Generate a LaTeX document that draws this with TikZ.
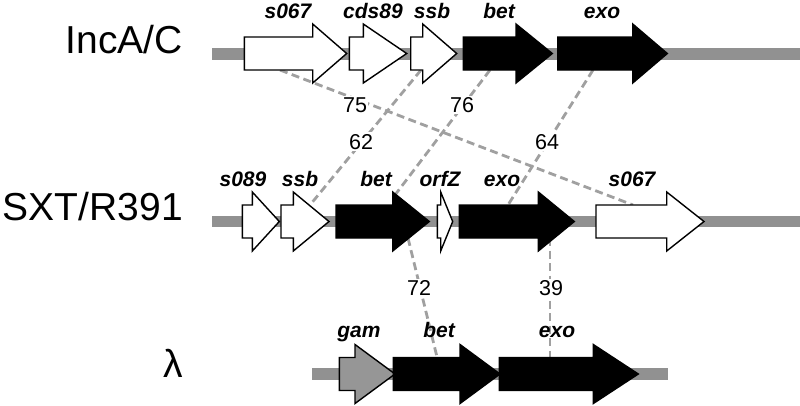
\documentclass[tikz,border=0pt]{standalone}
\usepackage{fontspec}
\setmainfont{Liberation Sans}
\definecolor{bbgray}{RGB}{145,145,145}
\definecolor{dashgray}{RGB}{160,160,160}
\definecolor{gamgray}{RGB}{150,150,150}
\newcommand{\genearrow}[5]{%
  \filldraw[genebox, fill=#5] (#1,#4-16.5) -- (#2,#4-16.5) -- (#2,#4-29.5) -- (#3,#4)
    -- (#2,#4+29.5) -- (#2,#4+16.5) -- (#1,#4+16.5) -- cycle;}
\begin{document}
\begin{tikzpicture}[x=1pt,y=-1pt,
  backbone/.style={draw=bbgray, line width=11.5pt},
  genebox/.style={draw=black, line width=1.4pt, line join=miter},
  conn/.style={draw=dashgray, line width=2.8pt, dash pattern=on 8pt off 4.5pt},
  rowlabel/.style={font=\fontsize{39}{39}\selectfont, anchor=base east, inner sep=0pt},
  genelabel/.style={font=\fontsize{21}{21}\selectfont\bfseries\itshape, anchor=base, inner sep=0pt},
  idlabel/.style={font=\fontsize{21.5}{21.5}\selectfont, anchor=base, fill=white, inner sep=1.5pt}]
\useasboundingbox (0,0) rectangle (800,405);

% row labels
\node[rowlabel] (rIncA) at (183,53) {IncA/C};
\node[rowlabel] (rSXT) at (183,220) {SXT/R391};
\node[rowlabel] (rLam) at (183,377) {λ};

% backbones
\draw[backbone] (212,54) -- (800,54);
\draw[backbone] (212,221.5) -- (800,221.5);
\draw[backbone] (312,374) -- (668,374);

% connector end points
\coordinate (a75) at (280,70);  \coordinate (b75) at (633,205);
\coordinate (a62) at (421,70);  \coordinate (b62) at (310,205);
\coordinate (a76) at (490,70);  \coordinate (b76) at (395,195);
\coordinate (a64) at (593,70);  \coordinate (b64) at (508,205);
\coordinate (a72) at (408,238); \coordinate (b72) at (437,357);
\coordinate (a39) at (550,238); \coordinate (b39) at (550,357);

\draw[conn] (a75) -- (b75);
\draw[conn] (a62) -- (b62);
\draw[conn] (a76) -- (b76);
\draw[conn] (a64) -- (b64);
\draw[conn] (a72) -- (b72);
\draw[conn] (a39) -- (b39);

\node[idlabel] (n75) at (355,112.5) {75};
\node[idlabel] (n62) at (361,149) {62};
\node[idlabel] (n76) at (462,112.5) {76};
\node[idlabel] (n64) at (547,149) {64};
\node[idlabel] (n72) at (419,295.5) {72};
\node[idlabel] (n39) at (551,295.5) {39};

% IncA/C genes
\genearrow{244.3}{312.7}{346.7}{53.5}{white}
\genearrow{349.3}{363.3}{406.7}{53.5}{white}
\genearrow{410.7}{422.7}{456.7}{53.5}{white}
\genearrow{463.3}{516}{552.3}{53.5}{black}
\genearrow{557.7}{632.7}{667.3}{53.5}{black}
\node[genelabel] (g1a) at (288,18) {s067};
\node[genelabel] (g1b) at (373,18) {cds89};
\node[genelabel] (g1c) at (432,18) {ssb};
\node[genelabel] (g1d) at (499,18) {bet};
\node[genelabel] (g1e) at (602,18) {exo};

% SXT/R391 genes
\genearrow{242.3}{252.3}{279.3}{221.5}{white}
\genearrow{281}{293.3}{329}{221.5}{white}
\genearrow{336}{392.7}{429.3}{221.5}{black}
\genearrow{437.3}{440.7}{452.7}{221.5}{white}
\genearrow{459.3}{538.3}{574.3}{221.5}{black}
\genearrow{596}{666.7}{704}{221.5}{white}
\node[genelabel] (g2a) at (243,186) {s089};
\node[genelabel] (g2b) at (300,186) {ssb};
\node[genelabel] (g2c) at (376,186) {bet};
\node[genelabel] (g2d) at (440,186) {orfZ};
\node[genelabel] (g2e) at (502,186) {exo};
\node[genelabel] (g2f) at (632,186) {s067};

% lambda genes
\genearrow{339.3}{355}{395}{374}{gamgray}
\genearrow{393.3}{460}{500}{374}{black}
\genearrow{499.3}{593.3}{638.3}{374}{black}
\node[genelabel] (g3a) at (359,337) {gam};
\node[genelabel] (g3b) at (439,337) {bet};
\node[genelabel] (g3c) at (557,337) {exo};
\end{tikzpicture}
\end{document}
